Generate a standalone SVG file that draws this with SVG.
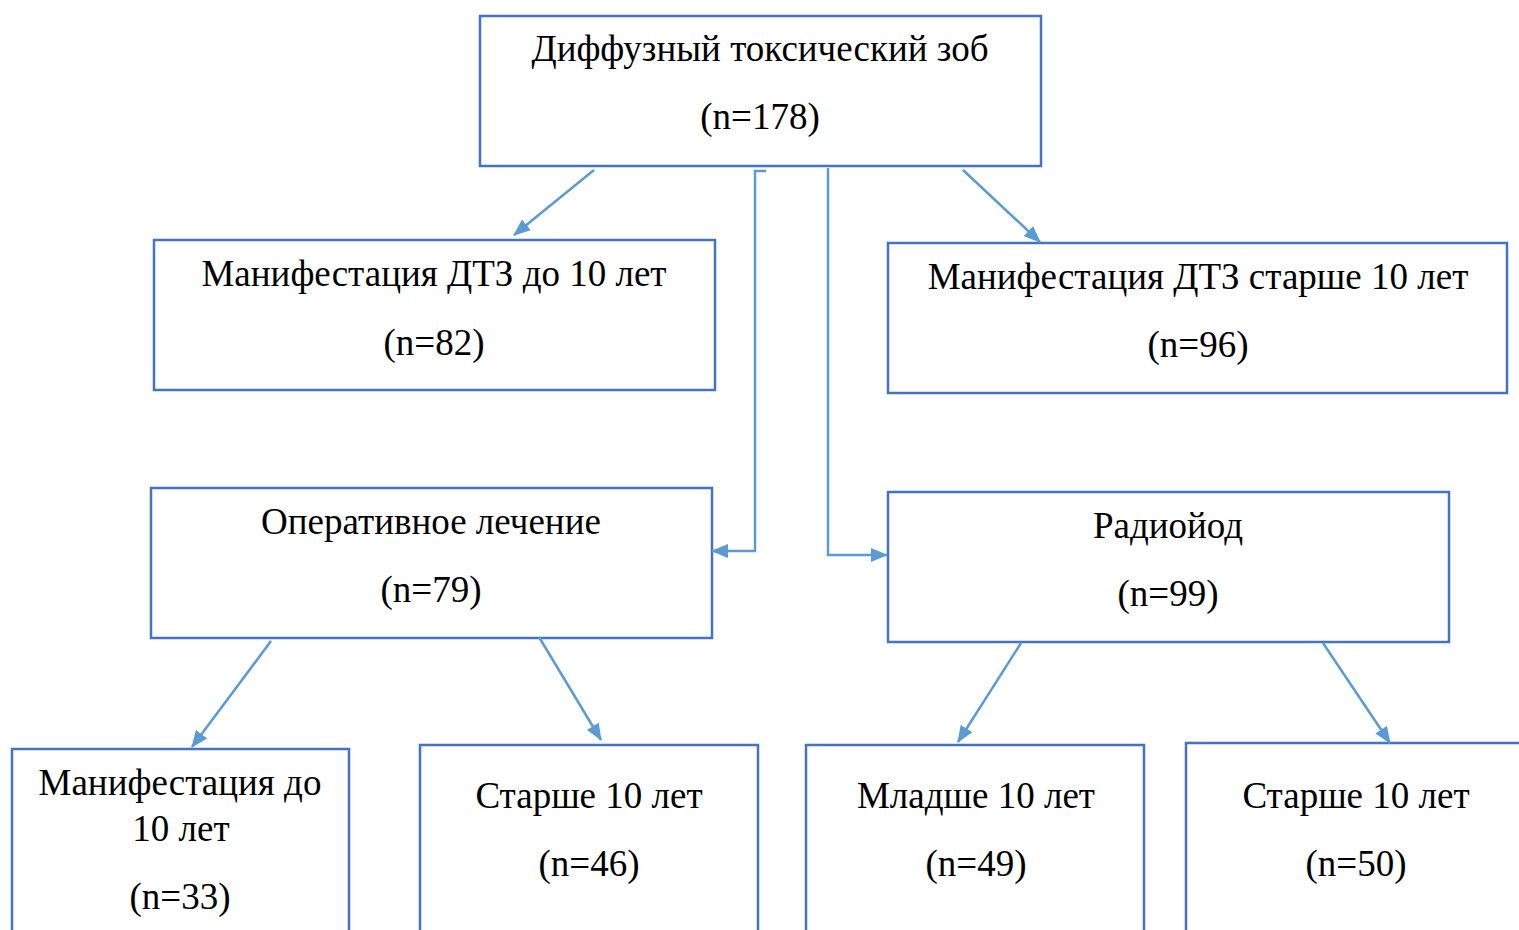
<svg xmlns="http://www.w3.org/2000/svg" width="1519" height="930" viewBox="0 0 1519 930">
<style>
.box{fill:#fff;stroke:#4472C4;stroke-width:2.5}
.t{font-family:"Liberation Serif","Times New Roman",serif;font-size:37px;fill:#000;text-anchor:middle}
.c{fill:none;stroke:#5B9BD5;stroke-width:2.5}
</style>
<defs>
<marker id="ah" markerUnits="userSpaceOnUse" markerWidth="18" markerHeight="14" refX="16" refY="7" orient="auto">
<path d="M0,0 L17,7 L0,14 Z" fill="#5B9BD5"/>
</marker>
</defs>
<rect width="1519" height="930" fill="#fff"/>
<g id="n-top"><rect class="box" x="480" y="16" width="561" height="150"/><text class="t" x="760" y="61">Диффузный токсический зоб</text><text class="t" x="760" y="129">(n=178)</text></g>
<g id="n-left2"><rect class="box" x="154" y="240" width="561" height="150"/><text class="t" x="434" y="286">Манифестация ДТЗ до 10 лет</text><text class="t" x="434" y="355">(n=82)</text></g>
<g id="n-right2"><rect class="box" x="888" y="243" width="619" height="150"/><text class="t" x="1198" y="289">Манифестация ДТЗ старше 10 лет</text><text class="t" x="1198" y="357">(n=96)</text></g>
<g id="n-op"><rect class="box" x="151" y="488" width="561" height="150"/><text class="t" x="431" y="534">Оперативное лечение</text><text class="t" x="431" y="602">(n=79)</text></g>
<g id="n-radio"><rect class="box" x="888" y="492" width="561" height="150"/><text class="t" x="1168" y="538">Радиойод</text><text class="t" x="1168" y="606">(n=99)</text></g>
<g id="n-b1"><rect class="box" x="12" y="749" width="337" height="200"/><text class="t" x="180" y="795">Манифестация до</text><text class="t" x="181" y="841">10 лет</text><text class="t" x="180" y="909">(n=33)</text></g>
<g id="n-b2"><rect class="box" x="420" y="745" width="338" height="200"/><text class="t" x="589" y="808">Старше 10 лет</text><text class="t" x="589" y="876">(n=46)</text></g>
<g id="n-b3"><rect class="box" x="806" y="745" width="338" height="200"/><text class="t" x="976" y="808">Младше 10 лет</text><text class="t" x="976" y="876">(n=49)</text></g>
<g id="n-b4"><rect class="box" x="1186" y="743" width="340" height="200"/><text class="t" x="1356" y="808">Старше 10 лет</text><text class="t" x="1356" y="876">(n=50)</text></g>
<g id="connectors">
<path class="c" d="M594,170 L514,235" marker-end="url(#ah)"/>
<path class="c" d="M963,170 L1040,242" marker-end="url(#ah)"/>
<path class="c" d="M766,171 H755 V551 H712" marker-end="url(#ah)"/>
<path class="c" d="M828,168 V555 H887" marker-end="url(#ah)"/>
<path class="c" d="M271,641 L192,747" marker-end="url(#ah)"/>
<path class="c" d="M539,637 L601,740" marker-end="url(#ah)"/>
<path class="c" d="M1021,643 L958,742" marker-end="url(#ah)"/>
<path class="c" d="M1323,643 L1390,743" marker-end="url(#ah)"/>
</g>
</svg>
